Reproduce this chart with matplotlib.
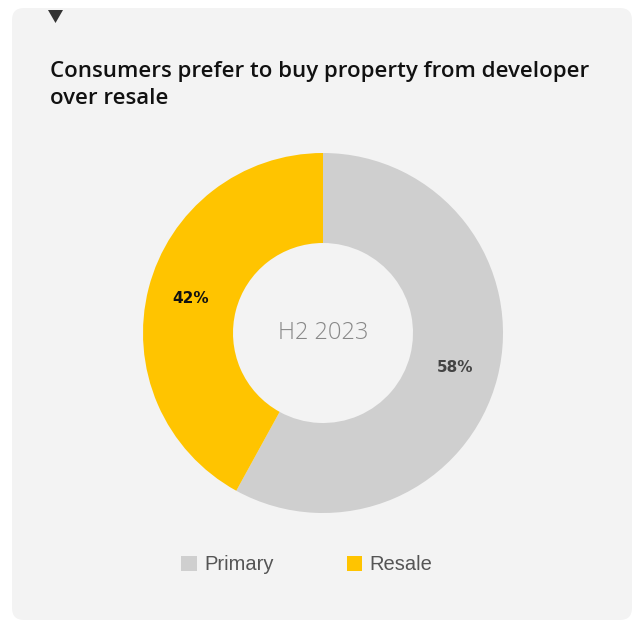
import matplotlib
matplotlib.use("Agg")
import matplotlib.pyplot as plt
from matplotlib.patches import FancyBboxPatch, Polygon

# data
labels = ['Primary', 'Resale']
shares = [58, 42]
colors = ['#cfcfcf', '#ffc400']
label_colors = ['#444444', '#111111']
center_text = 'H2 2023'
title = 'Consumers prefer to buy property from developer\nover resale'

W, H = 636, 626
fig = plt.figure(figsize=(W / 100, H / 100), dpi=100)
fig.patch.set_facecolor('white')

# background card
bg = fig.add_axes([0, 0, 1, 1])
bg.set_xlim(0, W)
bg.set_ylim(H, 0)
bg.axis('off')
card = FancyBboxPatch((12, 8), 620, 612, boxstyle='round,pad=0,rounding_size=12',
                      facecolor='#f3f3f3', edgecolor='none')
bg.add_patch(card)
bg.add_patch(Polygon([(48, 10), (63, 10), (55.5, 23)], closed=True,
                     facecolor='#333333', edgecolor='none'))
bg.text(50, 61, title, fontsize=16, fontweight='semibold', family='Open Sans',
        color='#111111', va='top', ha='left', linespacing=1.35)

# donut
cx, cy, R = 323, 333, 180
ax = fig.add_axes([(cx - R) / W, (H - cy - R) / H, 2 * R / W, 2 * R / H])
wedges, texts, autotexts = ax.pie(shares, colors=colors, startangle=90, counterclock=False,
                                  radius=1, wedgeprops=dict(width=0.5, edgecolor='none'),
                                  autopct='%d%%', pctdistance=0.76)
for t, c in zip(autotexts, label_colors):
    t.set_color(c)
    t.set_fontsize(11)
    t.set_fontweight('bold')
    t.set_family('DejaVu Sans')
ax.text(0, 0, center_text, ha='center', va='center', fontsize=17, color='#888888',
        family='Open Sans', fontweight='light')
ax.set_xlim(-1, 1)
ax.set_ylim(-1, 1)
ax.set_aspect('equal')
ax.axis('off')

leg = fig.legend(wedges, labels, ncol=2, frameon=False, loc='center',
                 bbox_to_anchor=(307 / W, (H - 565) / H),
                 handlelength=0.75, handleheight=0.75, handletextpad=0.4,
                 columnspacing=3.6, prop=dict(family='Liberation Sans', size=14.5))
for t in leg.get_texts():
    t.set_color('#555555')

fig.savefig('out.png', dpi=100, facecolor='white')
